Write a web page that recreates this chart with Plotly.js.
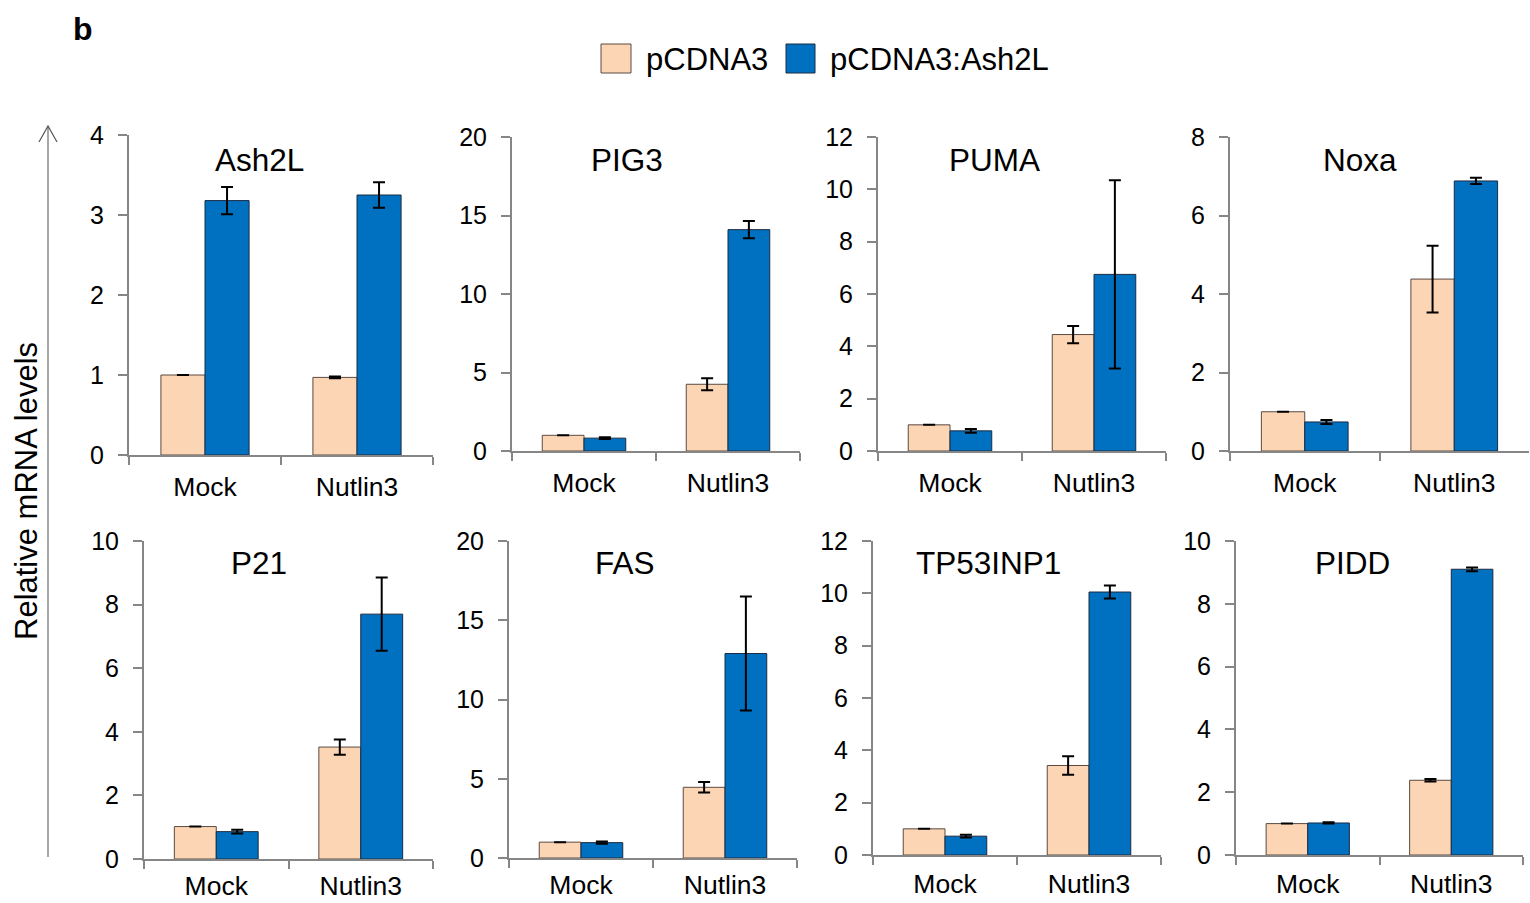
<!DOCTYPE html>
<html>
<head>
<meta charset="utf-8">
<script src="https://cdn.plot.ly/plotly-3.0.1.min.js"></script>
<style>html,body{margin:0;padding:0;background:#fff;}#chart{width:1530px;height:903px;}</style>
</head>
<body>
<div id="chart"></div>
<script>
// ---- data ----
var genes = ['Ash2L','PIG3','PUMA','Noxa','P21','FAS','TP53INP1','PIDD'];
var conditions = ['Mock','Nutlin3'];
var seriesNames = ['pCDNA3','pCDNA3:Ash2L'];
var pcdna3Values = [[1.0,0.97],[1.0,4.25],[1.0,4.45],[1.0,4.38],[1.02,3.52],[1.0,4.46],[1.0,3.42],[1.0,2.38]];
var pcdna3Errors = [[null,0.01],[null,0.38],[null,0.33],[null,0.85],[null,0.24],[null,0.33],[null,0.35],[null,0.04]];
var ash2lValues  = [[3.18,3.25],[0.82,14.1],[0.77,6.75],[0.74,6.88],[0.86,7.7],[0.97,12.9],[0.72,10.05],[1.02,9.1]];
var ash2lErrors  = [[0.17,0.16],[0.05,0.55],[0.07,3.6],[0.05,0.08],[0.06,1.15],[0.07,3.6],[0.05,0.25],[0.02,0.06]];
var yMax   = [4,20,12,8,10,20,12,10];
var yDtick = [1,5,2,2,2,5,2,2];
var yAxisTitle = 'Relative mRNA levels';
var panelLabel = 'b';

// ---- layout geometry (pixels) ----
var W = 1530, H = 903;
var xDom = [[129,433],[512,800],[878,1166],[1230,1529],[144,433],[509,797],[873,1161],[1236,1523]];
var yDom = [[135,455],[137,451],[137,451],[137,451],[541,859],[541,858],[541,855],[541,855]];
var titlePos = [[259,160],[627,160],[994,160],[1360,160],[259,563],[625,563],[988,563],[1352,563]];
var xLabelStandoff = [7,7,7,7,2,2,4,4];
function fx(p){return p/W;}
function fy(p){return 1-p/H;}

var colors = ['#FCD5B5','#0070C0'];
var axisGray = '#868686';
var fontFam = 'Liberation Sans, Arial, sans-serif';

var traces = [];
var layout = {
  width: W, height: H,
  margin: {l:0,r:0,t:0,b:0},
  paper_bgcolor: '#fff', plot_bgcolor: 'rgba(0,0,0,0)',
  barmode: 'group', bargap: 0.42, bargroupgap: 0,
  showlegend: false,
  font: {family: fontFam, color: '#000'},
  annotations: [], shapes: []
};

for (var i = 0; i < genes.length; i++) {
  var sfx = i === 0 ? '' : String(i+1);
  var xa = 'x'+sfx, ya = 'y'+sfx;
  var vals = [pcdna3Values[i], ash2lValues[i]];
  var errs = [pcdna3Errors[i], ash2lErrors[i]];
  for (var s = 0; s < 2; s++) {
    traces.push({
      type: 'bar', x: conditions, y: vals[s], name: seriesNames[s],
      xaxis: xa, yaxis: ya, offsetgroup: String(s),
      marker: {color: colors[s], line: {color: s === 0 ? '#5a4a40' : '#1b2a40', width: 1}},
      error_y: {type: 'data', array: errs[s], visible: true, color: '#000', thickness: 2, width: 6},
      hoverinfo: 'x+y+name'
    });
  }
  layout['xaxis'+sfx] = {
    domain: [fx(xDom[i][0]), fx(xDom[i][1])], anchor: ya,
    type: 'category', range: [-0.5, 1.5],
    showline: true, linecolor: axisGray, linewidth: 2,
    ticks: 'outside', tickson: 'boundaries', ticklen: 8, tickcolor: axisGray, tickwidth: 2,
    showgrid: false, zeroline: false,
    tickfont: {size: 26.5, family: fontFam, color: '#000'},
    ticklabelstandoff: xLabelStandoff[i], fixedrange: true
  };
  layout['yaxis'+sfx] = {
    domain: [fy(yDom[i][1]), fy(yDom[i][0])], anchor: xa,
    range: [0, yMax[i]], dtick: yDtick[i], tick0: 0,
    showline: true, linecolor: axisGray, linewidth: 2,
    ticks: 'outside', ticklen: 9, tickcolor: axisGray, tickwidth: 2,
    showgrid: false, zeroline: false,
    tickfont: {size: 25, family: fontFam, color: '#000'},
    ticklabelstandoff: 9, fixedrange: true
  };
  layout.annotations.push({
    text: genes[i], xref: 'paper', yref: 'paper',
    x: fx(titlePos[i][0]), y: fy(titlePos[i][1]),
    xanchor: 'center', yanchor: 'middle', showarrow: false,
    font: {size: 31.5, family: fontFam, color: '#000'}
  });
}

// panel label
layout.annotations.push({text: '<b>'+panelLabel+'</b>', xref:'paper', yref:'paper',
  x: fx(83), y: fy(29), xanchor:'center', yanchor:'middle', showarrow:false,
  font:{size:32, family: fontFam, color:'#000'}});

// overall y-axis title
layout.annotations.push({text: yAxisTitle, xref:'paper', yref:'paper',
  x: fx(26), y: fy(491), xanchor:'center', yanchor:'middle', showarrow:false, textangle:-90,
  font:{size:31, family: fontFam, color:'#000'}});

// arrow
layout.shapes.push({type:'line', xref:'paper', yref:'paper', x0:fx(48), x1:fx(48), y0:fy(857), y1:fy(126),
  line:{color:'#8a8a8a', width:1.5}});
layout.shapes.push({type:'path', xref:'paper', yref:'paper',
  path: 'M '+fx(39)+' '+fy(142)+' L '+fx(48)+' '+fy(126)+' L '+fx(57)+' '+fy(142),
  line:{color:'#555', width:1.2}});

// custom legend (large swatches)
var legSw = [[601,631],[786,815]];
var legTx = [644,828];
for (var k = 0; k < 2; k++) {
  layout.shapes.push({type:'rect', xref:'paper', yref:'paper',
    x0:fx(legSw[k][0]), x1:fx(legSw[k][1]), y0:fy(73), y1:fy(44),
    fillcolor: colors[k], line:{color: k===0 ? '#5a4a40' : '#1b2a40', width:1}});
  layout.annotations.push({text: seriesNames[k], xref:'paper', yref:'paper',
    x: fx(legTx[k]), y: fy(59), xanchor:'left', yanchor:'middle', showarrow:false,
    font:{size:31, family: fontFam, color:'#000'}});
}

Plotly.newPlot('chart', traces, layout, {displayModeBar: false, staticPlot: false});
</script>
</body>
</html>
